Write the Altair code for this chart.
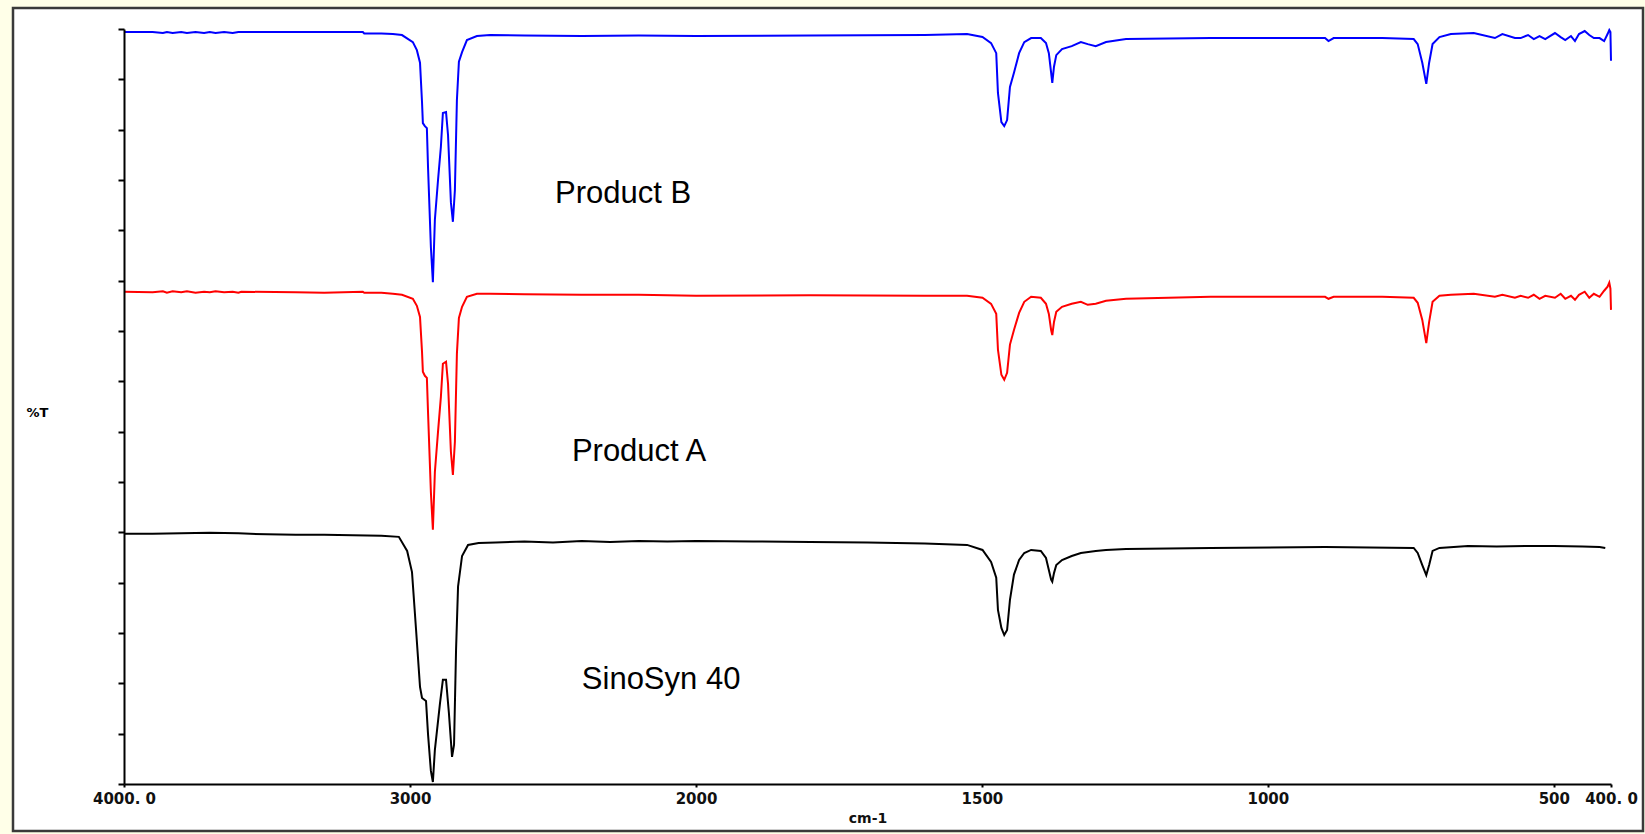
import altair as alt
import pandas as pd

# ---------------- data ----------------
# Product B (blue)
WN_B = [4000, 3900, 3864, 3850, 3830, 3800, 3780, 3750, 3720, 3700, 3680, 3650, 3620, 3600, 3590,
        3400, 3300, 3165, 3160, 3140, 3100, 3060, 3028, 2990, 2976, 2965, 2958, 2955, 2948, 2941,
        2937, 2927, 2920, 2913, 2902, 2892, 2885, 2874, 2867, 2857, 2850, 2843, 2836, 2829, 2818,
        2801, 2766, 2720, 2600, 2400, 2200, 2000, 1800, 1600, 1526, 1499, 1484, 1475, 1472, 1466,
        1461, 1456, 1451, 1444, 1435, 1426, 1414, 1397, 1388, 1383, 1379, 1377, 1374, 1370, 1360,
        1343, 1327, 1315, 1301, 1283, 1248, 1100, 1000, 900, 894, 885, 800, 745, 738, 730,
        723, 718, 712, 700, 680, 640, 603, 590, 568, 558, 545, 535, 525, 515, 498,
        488, 480, 470, 463, 456, 446, 438, 430, 420, 412, 406, 403, 401, 400]
T_B = [149.4, 149.4, 149.2, 149.4, 149.2, 149.4, 149.2, 149.4, 149.2, 149.4, 149.2, 149.4, 149.2, 149.4, 149.4,
       149.4, 149.4, 149.4, 149.1, 149.1, 149.1, 149.0, 148.8, 147.4, 145.8, 143.3, 135.5, 131.3, 130.7, 130.3,
       122.6, 106.7, 99.7, 112.1, 120.0, 126.6, 133.3, 133.5, 128.9, 115.6, 111.7, 118.0, 135.9, 143.5, 145.4,
       147.8, 148.6, 148.8, 148.7, 148.6, 148.7, 148.6, 148.7, 148.8, 149.0, 148.4, 147.2, 145.2, 137.3, 131.5,
       130.7, 131.9, 138.5, 141.3, 145.2, 147.4, 148.2, 148.2, 147.2, 145.2, 141.3, 139.3, 142.5, 144.8, 146.0,
       146.6, 147.4, 147.0, 146.6, 147.4, 148.0, 148.2, 148.2, 148.2, 147.6, 148.2, 148.2, 148.0, 147.0, 143.3,
       139.1, 143.3, 147.0, 148.4, 149.0, 149.2, 148.2, 149.0, 148.2, 148.2, 148.8, 148.0, 148.6, 148.0, 149.2,
       148.4, 147.8, 148.6, 147.6, 149.0, 149.6, 148.8, 148.2, 148.2, 147.6, 149.0, 149.8, 149.4, 143.7]

# Product A (red)
WN_A = WN_B
T_A = [97.8, 97.7, 97.9, 97.6, 97.9, 97.7, 97.9, 97.6, 97.8, 97.7, 97.9, 97.7, 97.8, 97.6, 97.8,
       97.7, 97.6, 97.8, 97.6, 97.6, 97.6, 97.4, 97.2, 96.4, 95.0, 92.8, 85.9, 81.9, 81.1, 80.7,
       73.9, 58.0, 50.5, 62.0, 70.0, 76.9, 83.5, 83.9, 79.5, 66.0, 61.4, 68.0, 85.5, 92.6, 94.8,
       96.8, 97.4, 97.4, 97.3, 97.2, 97.2, 97.0, 97.1, 97.0, 97.0, 96.6, 95.4, 93.4, 86.3, 81.3,
       80.3, 81.7, 87.3, 90.2, 93.6, 95.8, 96.8, 96.6, 95.4, 93.4, 90.2, 89.2, 91.8, 93.8, 94.8,
       95.4, 95.8, 95.2, 95.4, 96.0, 96.4, 96.8, 96.8, 96.8, 96.4, 96.8, 96.8, 96.6, 95.6, 92.2,
       87.6, 91.8, 95.8, 97.0, 97.2, 97.4, 96.8, 97.2, 96.6, 97.0, 96.6, 97.2, 96.4, 97.0, 96.6,
       97.4, 96.4, 97.0, 96.2, 97.2, 97.8, 96.6, 97.4, 96.8, 98.0, 98.8, 99.6, 98.4, 94.2]

# SinoSyn 40 (black)
WN_K = [4000, 3900, 3800, 3700, 3600, 3500, 3400, 3300, 3200, 3100, 3039, 3010, 2993, 2979, 2965,
        2958, 2944, 2937, 2927, 2920, 2913, 2895, 2885, 2874, 2864, 2853, 2846, 2839, 2832, 2818,
        2797, 2760, 2700, 2600, 2500, 2400, 2300, 2200, 2100, 2000, 1900, 1800, 1700, 1600, 1526,
        1499, 1484, 1475, 1472, 1466, 1461, 1456, 1451, 1444, 1435, 1426, 1414, 1397, 1388, 1383,
        1379, 1377, 1374, 1370, 1360, 1343, 1327, 1301, 1283, 1248, 1100, 900, 745, 738, 730,
        723, 718, 712, 700, 650, 600, 550, 500, 450, 420, 410]
T_K = [49.7, 49.7, 49.8, 49.9, 49.8, 49.6, 49.5, 49.5, 49.4, 49.3, 49.1, 46.3, 42.1, 30.8, 19.3,
       17.1, 16.5, 9.9, 2.6, 0.4, 6.8, 16.1, 20.7, 20.7, 14.1, 5.4, 7.8, 26.6, 39.2, 45.3,
       47.5, 47.9, 48.0, 48.2, 48.0, 48.3, 48.1, 48.3, 48.2, 48.3, 48.2, 48.1, 48.0, 47.8, 47.5,
       46.5, 44.1, 41.0, 34.6, 31.0, 29.6, 30.6, 36.6, 41.6, 44.5, 45.9, 46.5, 46.3, 44.9, 42.5,
       40.6, 40.2, 41.9, 43.5, 44.5, 45.3, 45.9, 46.3, 46.5, 46.7, 46.9, 47.1, 46.9, 45.9, 43.5,
       41.5, 43.5, 46.3, 46.9, 47.3, 47.2, 47.3, 47.3, 47.2, 47.1, 46.9]

SERIES = ["Product B", "Product A", "SinoSyn 40"]
COLORS = ["#0000FF", "#FF0000", "#000000"]

LABEL_WN = [2255, 2199, 2122]
LABEL_T = [117.3, 66.0, 20.7]

X_TICKS = [4000, 3000, 2000, 1500, 1000, 500, 400]
X_TICK_LABELS = ["4000. 0", "3000", "2000", "1500", "1000", "500", "400. 0"]
Y_TICKS = list(range(0, 151, 10))

# ---------------- build tables ----------------
rows = []
for name, wn, t in [(SERIES[0], WN_B, T_B), (SERIES[1], WN_A, T_A), (SERIES[2], WN_K, T_K)]:
    for i, (w, v) in enumerate(zip(wn, t)):
        rows.append({"series": name, "wn": w, "T": v, "i": i})
df = pd.DataFrame(rows)
lab = pd.DataFrame({"label": SERIES, "wn": LABEL_WN, "T": LABEL_T})

W, H = 1487, 755
xscale = alt.Scale(domain=[4000, 2000, 400], range=[0, 572, W], zero=False, nice=False)
yscale = alt.Scale(domain=[0, 150], zero=False, nice=False)

label_expr = " : ".join(
    f"datum.value == {v} ? '{t}'" for v, t in zip(X_TICKS, X_TICK_LABELS)
) + " : ''"

frame = alt.Chart(pd.DataFrame({"a": [0]})).mark_rect(
    fill="white", stroke="#3a3a3a", strokeWidth=2.5, clip=False
).encode(
    x=alt.value(-111), x2=alt.value(1519), y=alt.value(-21), y2=alt.value(802)
)

lines = alt.Chart(df).mark_line(strokeWidth=2, strokeJoin="miter").encode(
    x=alt.X("wn:Q", scale=xscale,
            axis=alt.Axis(values=X_TICKS, labelExpr=label_expr, title="cm-1", zindex=2,
                          domainColor="black", domainWidth=2, tickColor="black", tickWidth=2,
                          tickSize=3, labelFont="DejaVu Sans", labelFontSize=15,
                          labelFontWeight="bold", labelColor="#111111",
                          labelPadding=4, grid=False, titleFont="DejaVu Sans", titleFontSize=14,
                          titleFontWeight="bold", titleColor="#111111", titlePadding=5,
                          labelFlush=False, labelOverlap=False)),
    y=alt.Y("T:Q", scale=yscale,
            axis=alt.Axis(values=Y_TICKS, labels=False, title="%T", titleAngle=0, zindex=2,
                          titleX=-87, titleY=383, titleAlign="center", titleBaseline="middle",
                          titleFont="DejaVu Sans", titleFontSize=13, titleFontWeight="bold",
                          titleColor="black", domainColor="black", domainWidth=2,
                          tickColor="black", tickWidth=2, tickSize=6, grid=False)),
    color=alt.Color("series:N", scale=alt.Scale(domain=SERIES, range=COLORS), legend=None),
    detail="series:N",
    order="i:Q",
)

texts = alt.Chart(lab).mark_text(
    font="Liberation Sans", fontSize=31, color="black", align="center", baseline="middle"
).encode(x=alt.X("wn:Q", scale=xscale), y=alt.Y("T:Q", scale=yscale), text="label:N")

chart = alt.layer(frame, lines, texts).properties(
    width=W, height=H,
    autosize=alt.AutoSizeParams(type="none"),
    padding={"left": 124, "top": 29, "right": 34, "bottom": 50},
    background="#FFFFE8",
).configure_view(stroke=None)

chart.save("out.html", embed_options={"renderer": "svg", "actions": False})
